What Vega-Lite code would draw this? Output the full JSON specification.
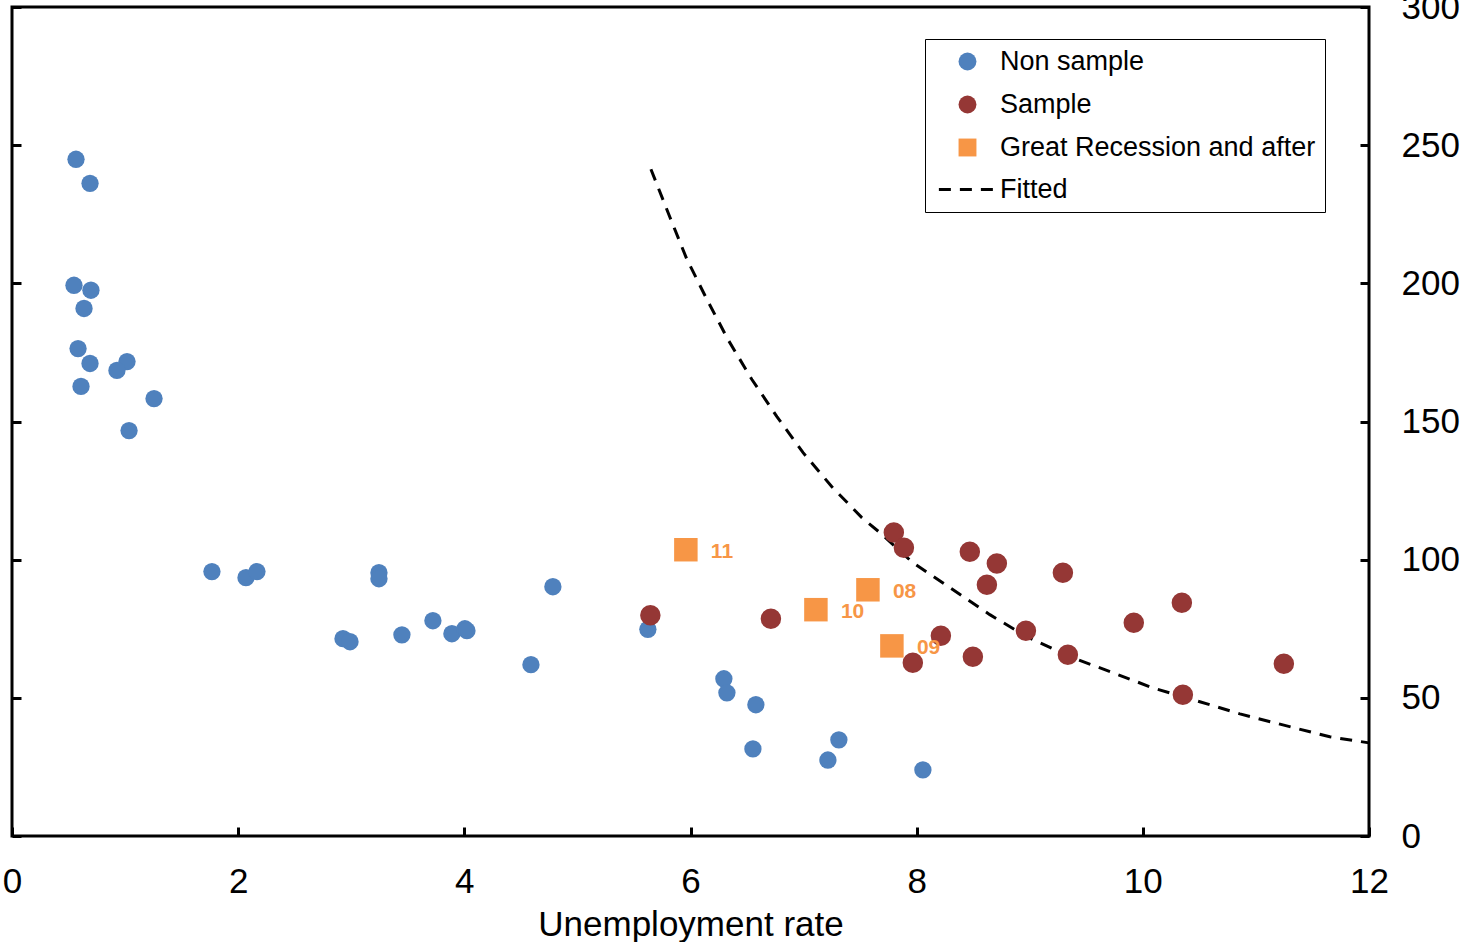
{
  "$schema": "https://vega.github.io/schema/vega-lite/v6.json",
  "width": 1357,
  "height": 829,
  "autosize": {"type": "none"},
  "padding": {"left": 12, "top": 7, "right": 97, "bottom": 106},
  "background": "white",
  "config": {
    "view": {"stroke": "black", "strokeWidth": 3},
    "font": "Liberation Sans",
    "axis": {"grid": false, "domain": false, "labelFont": "Liberation Sans", "labelColor": "black", "titleFont": "Liberation Sans", "titleColor": "black", "titleFontWeight": "normal", "tickColor": "black", "tickWidth": 3, "tickSize": -9, "labelFlush": false, "labelOverlap": false}
  },
  "datasets": {
    "pts": [
      {"series": "Non sample", "unemployment": 0.566, "value": 244.9},
      {"series": "Non sample", "unemployment": 0.690, "value": 236.2},
      {"series": "Non sample", "unemployment": 0.548, "value": 199.3},
      {"series": "Non sample", "unemployment": 0.698, "value": 197.5},
      {"series": "Non sample", "unemployment": 0.637, "value": 190.9},
      {"series": "Non sample", "unemployment": 0.584, "value": 176.4},
      {"series": "Non sample", "unemployment": 0.690, "value": 171.0},
      {"series": "Non sample", "unemployment": 1.017, "value": 171.7},
      {"series": "Non sample", "unemployment": 0.928, "value": 168.5},
      {"series": "Non sample", "unemployment": 0.610, "value": 162.7},
      {"series": "Non sample", "unemployment": 1.256, "value": 158.3},
      {"series": "Non sample", "unemployment": 1.035, "value": 146.7},
      {"series": "Non sample", "unemployment": 1.768, "value": 95.7},
      {"series": "Non sample", "unemployment": 2.069, "value": 93.5},
      {"series": "Non sample", "unemployment": 2.166, "value": 95.7},
      {"series": "Non sample", "unemployment": 3.245, "value": 95.3},
      {"series": "Non sample", "unemployment": 3.245, "value": 93.1},
      {"series": "Non sample", "unemployment": 4.783, "value": 90.2},
      {"series": "Non sample", "unemployment": 2.927, "value": 71.4},
      {"series": "Non sample", "unemployment": 2.989, "value": 70.3},
      {"series": "Non sample", "unemployment": 3.448, "value": 72.8},
      {"series": "Non sample", "unemployment": 3.722, "value": 77.9},
      {"series": "Non sample", "unemployment": 3.890, "value": 73.2},
      {"series": "Non sample", "unemployment": 4.005, "value": 75.0},
      {"series": "Non sample", "unemployment": 4.023, "value": 74.3},
      {"series": "Non sample", "unemployment": 4.589, "value": 62.0},
      {"series": "Non sample", "unemployment": 5.623, "value": 74.8},
      {"series": "Non sample", "unemployment": 6.295, "value": 56.9},
      {"series": "Non sample", "unemployment": 6.322, "value": 51.8},
      {"series": "Non sample", "unemployment": 6.578, "value": 47.5},
      {"series": "Non sample", "unemployment": 6.552, "value": 31.5},
      {"series": "Non sample", "unemployment": 7.312, "value": 34.8},
      {"series": "Non sample", "unemployment": 7.215, "value": 27.5},
      {"series": "Non sample", "unemployment": 8.055, "value": 23.9},
      {"series": "Sample", "unemployment": 5.645, "value": 79.9},
      {"series": "Sample", "unemployment": 6.711, "value": 78.6},
      {"series": "Sample", "unemployment": 7.798, "value": 109.8},
      {"series": "Sample", "unemployment": 7.887, "value": 104.3},
      {"series": "Sample", "unemployment": 8.470, "value": 102.9},
      {"series": "Sample", "unemployment": 8.709, "value": 98.6},
      {"series": "Sample", "unemployment": 8.621, "value": 90.9},
      {"series": "Sample", "unemployment": 9.293, "value": 95.3},
      {"series": "Sample", "unemployment": 10.345, "value": 84.4},
      {"series": "Sample", "unemployment": 8.214, "value": 72.5},
      {"series": "Sample", "unemployment": 7.966, "value": 62.7},
      {"series": "Sample", "unemployment": 8.497, "value": 64.9},
      {"series": "Sample", "unemployment": 8.966, "value": 74.3},
      {"series": "Sample", "unemployment": 9.337, "value": 65.6},
      {"series": "Sample", "unemployment": 9.920, "value": 77.2},
      {"series": "Sample", "unemployment": 10.354, "value": 51.1},
      {"series": "Sample", "unemployment": 11.247, "value": 62.3},
      {"series": "Great Recession and after", "unemployment": 5.959, "value": 103.6, "label": "11"},
      {"series": "Great Recession and after", "unemployment": 7.109, "value": 81.9, "label": "10"},
      {"series": "Great Recession and after", "unemployment": 7.569, "value": 89.1, "label": "08"},
      {"series": "Great Recession and after", "unemployment": 7.781, "value": 68.8, "label": "09"}
    ],
    "fit": [
      {"unemployment": 5.650, "value": 241.3},
      {"unemployment": 5.818, "value": 223.9},
      {"unemployment": 5.968, "value": 208.7},
      {"unemployment": 6.145, "value": 194.2},
      {"unemployment": 6.331, "value": 179.7},
      {"unemployment": 6.543, "value": 165.2},
      {"unemployment": 6.764, "value": 151.8},
      {"unemployment": 6.994, "value": 138.8},
      {"unemployment": 7.250, "value": 126.4},
      {"unemployment": 7.515, "value": 115.2},
      {"unemployment": 7.675, "value": 109.8},
      {"unemployment": 7.966, "value": 98.9},
      {"unemployment": 8.294, "value": 89.9},
      {"unemployment": 8.647, "value": 80.1},
      {"unemployment": 8.974, "value": 72.1},
      {"unemployment": 9.355, "value": 64.9},
      {"unemployment": 9.735, "value": 59.1},
      {"unemployment": 10.088, "value": 53.6},
      {"unemployment": 10.504, "value": 48.6},
      {"unemployment": 10.858, "value": 44.2},
      {"unemployment": 11.238, "value": 40.2},
      {"unemployment": 11.653, "value": 35.9},
      {"unemployment": 12.0, "value": 33.7}
    ]
  },
  "encoding": {
    "x": {"field": "unemployment", "type": "quantitative", "scale": {"domain": [0, 12], "nice": false, "zero": false},
      "axis": {"orient": "bottom", "values": [0, 2, 4, 6, 8, 10, 12], "labelFontSize": 35, "labelPadding": 37, "title": "Unemployment rate", "titleFontSize": 35, "titlePadding": 8}}
  },
  "resolve": {"axis": {"y": "independent"}},
  "layer": [
    {
      "data": {"name": "fit"},
      "mark": {"type": "line", "color": "black", "strokeWidth": 3, "strokeDash": [12, 9]},
      "encoding": {
        "y": {"field": "value", "type": "quantitative", "scale": {"domain": [0, 300], "nice": false, "zero": false},
          "axis": {"orient": "left", "values": [0, 50, 100, 150, 200, 250, 300], "labels": false, "title": null}}
      }
    },
    {
      "data": {"name": "pts"},
      "mark": {"type": "point", "filled": true, "opacity": 1},
      "encoding": {
        "y": {"field": "value", "type": "quantitative",
          "axis": {"orient": "right", "values": [0, 50, 100, 150, 200, 250, 300], "labelFontSize": 35, "labelPadding": 41, "title": null}},
        "color": {"field": "series", "type": "nominal",
          "scale": {"domain": ["Non sample", "Sample", "Great Recession and after", "Fitted"], "range": ["#4F81BD", "#953735", "#F79646", "black"]},
          "legend": {
            "orient": "none", "legendX": 913, "legendY": 32, "title": null,
            "labelFont": "Liberation Sans", "labelFontSize": 27, "labelColor": "black", "labelLimit": 500,
            "symbolSize": 320, "symbolOpacity": 1, "symbolOffset": 20, "labelOffset": 19,
            "padding": 9, "rowPadding": 12, "strokeColor": "black",
            "encode": {"symbols": {"update": {
              "stroke": {"signal": "datum.value === 'Fitted' ? 'black' : 'transparent'"},
              "strokeWidth": {"value": 3},
              "strokeDash": {"value": [12, 9]}
            }}}
          }},
        "shape": {"field": "series", "type": "nominal",
          "scale": {"domain": ["Non sample", "Sample", "Great Recession and after", "Fitted"], "range": ["circle", "circle", "square", "M-3.2,0H3.2"]}},
        "size": {"field": "series", "type": "nominal",
          "scale": {"type": "ordinal", "domain": ["Non sample", "Sample", "Great Recession and after"], "range": [300, 420, 552]}, "legend": null}
      }
    },
    {
      "data": {"name": "pts"},
      "transform": [{"filter": "isValid(datum.label)"}],
      "mark": {"type": "text", "align": "left", "baseline": "middle", "dx": 25, "dy": 2, "fontSize": 21, "fontWeight": "bold", "color": "#F79646", "font": "Liberation Sans"},
      "encoding": {
        "y": {"field": "value", "type": "quantitative", "axis": null},
        "text": {"field": "label"}
      }
    }
  ]
}
